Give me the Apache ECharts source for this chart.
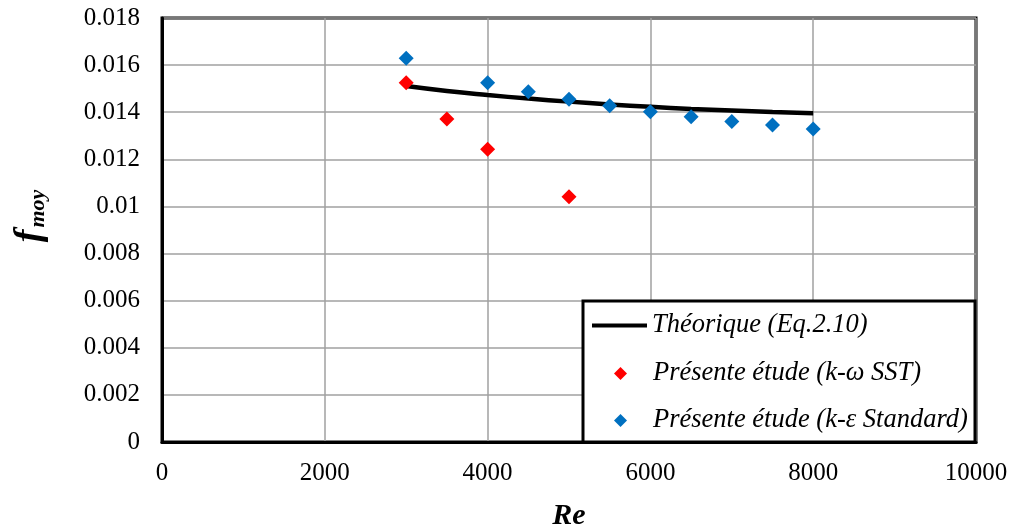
<!DOCTYPE html>
<html>
<head>
<meta charset="utf-8">
<script src="https://cdn.jsdelivr.net/npm/echarts@6/dist/echarts.min.js"></script>
<style>
  html, body { margin: 0; padding: 0; background: #fff; }
  #chart { width: 1013px; height: 529px; }
</style>
</head>
<body>
<div id="chart"></div>
<script>
// Reynolds numbers and mean friction factor values
const reTheory = [3000, 3500, 4000, 4500, 5000, 5500, 6000, 6500, 7000, 7500, 8000];
const fTheory = [0.01511, 0.01490, 0.01473, 0.01458, 0.01445, 0.01433, 0.01423, 0.01414, 0.01407, 0.01401, 0.01396];

const reSST = [3000, 3500, 4000, 5000];
const fSST = [0.01525, 0.01371, 0.01243, 0.01041];

const reKE = [3000, 4000, 4500, 5000, 5500, 6000, 6500, 7000, 7500, 8000];
const fKE = [0.01629, 0.01525, 0.01487, 0.01455, 0.01428, 0.01402, 0.01381, 0.01361, 0.01346, 0.01329];

const seriesNames = ['Théorique (Eq.2.10)', 'Présente étude (k-ω SST)', 'Présente étude (k-ε Standard)'];

const FONT = '"Liberation Serif", "Times New Roman", serif';
const zip = (xs, ys) => xs.map((x, i) => [x, ys[i]]);
const legendText = { fontFamily: FONT, fontSize: 26.5, fontStyle: 'italic', color: '#000' };

const chart = echarts.init(document.getElementById('chart'));
chart.setOption({
  backgroundColor: '#fff',
  animation: false,
  grid: {
    left: 162, right: 37, top: 18, bottom: 87,
    outerBoundsMode: 'none', containLabel: false,
    show: true, borderColor: '#000', borderWidth: 3, backgroundColor: 'transparent'
  },
  xAxis: {
    type: 'value', min: 0, max: 10000, interval: 2000,
    name: 'Re', nameLocation: 'middle', nameGap: 59,
    nameTextStyle: { fontFamily: FONT, fontSize: 30, fontWeight: 'bold', fontStyle: 'italic', color: '#000' },
    axisLine: { show: true, lineStyle: { color: '#000', width: 3 } },
    axisTick: { show: false },
    axisLabel: { fontFamily: FONT, fontSize: 25, color: '#000', margin: 19, formatter: v => String(v) },
    splitLine: { show: true, lineStyle: { color: '#a0a0a0', width: 1.5 } }
  },
  yAxis: {
    type: 'value', min: 0, max: 0.018, interval: 0.002,
    axisLine: { show: true, lineStyle: { color: '#000', width: 3 } },
    axisTick: { show: false },
    axisLabel: { fontFamily: FONT, fontSize: 25, color: '#000', margin: 22 },
    splitLine: { show: true, lineStyle: { color: '#a0a0a0', width: 1.5 } }
  },
  graphic: [{
    // y-axis title: f with subscript "moy", reading bottom to top
    type: 'text', z: 50,
    x: 30, y: 216, rotation: Math.PI / 2,
    style: {
      text: '{f|f}{s|moy}',
      align: 'center', verticalAlign: 'middle',
      rich: {
        f: { fontFamily: FONT, fontSize: 38, fontWeight: 'bold', fontStyle: 'italic', fill: '#000' },
        s: { fontFamily: FONT, fontSize: 22, fontWeight: 'bold', fontStyle: 'italic', fill: '#000', padding: [16, 0, 0, 2] }
      }
    }
  }, {
    // legend frame
    type: 'rect', z: 50,
    shape: { x: 583, y: 301, width: 392, height: 141 },
    style: { fill: '#fff', stroke: '#000', lineWidth: 3 }
  }],
  legend: [{
    z: 60,
    data: [{ name: seriesNames[0], icon: 'rect' }],
    left: 587, top: 307,
    itemWidth: 55, itemHeight: 4,
    textStyle: legendText
  }, {
    z: 60,
    orient: 'vertical',
    data: [seriesNames[1], seriesNames[2]],
    left: 609, top: 355, itemGap: 20,
    itemWidth: 13, itemHeight: 13,
    textStyle: Object.assign({ padding: [0, 0, 0, 21] }, legendText)
  }],
  series: [{
    name: seriesNames[0], type: 'line', smooth: true, symbol: 'none',
    data: zip(reTheory, fTheory),
    lineStyle: { color: '#000', width: 4.5 }, itemStyle: { color: '#000' }, z: 3
  }, {
    name: seriesNames[1], type: 'scatter', symbol: 'diamond', symbolSize: 15,
    data: zip(reSST, fSST), itemStyle: { color: '#ff0000', opacity: 1 }, z: 4
  }, {
    name: seriesNames[2], type: 'scatter', symbol: 'diamond', symbolSize: 15,
    data: zip(reKE, fKE), itemStyle: { color: '#0070c0', opacity: 1 }, z: 4
  }]
});
</script>
</body>
</html>
